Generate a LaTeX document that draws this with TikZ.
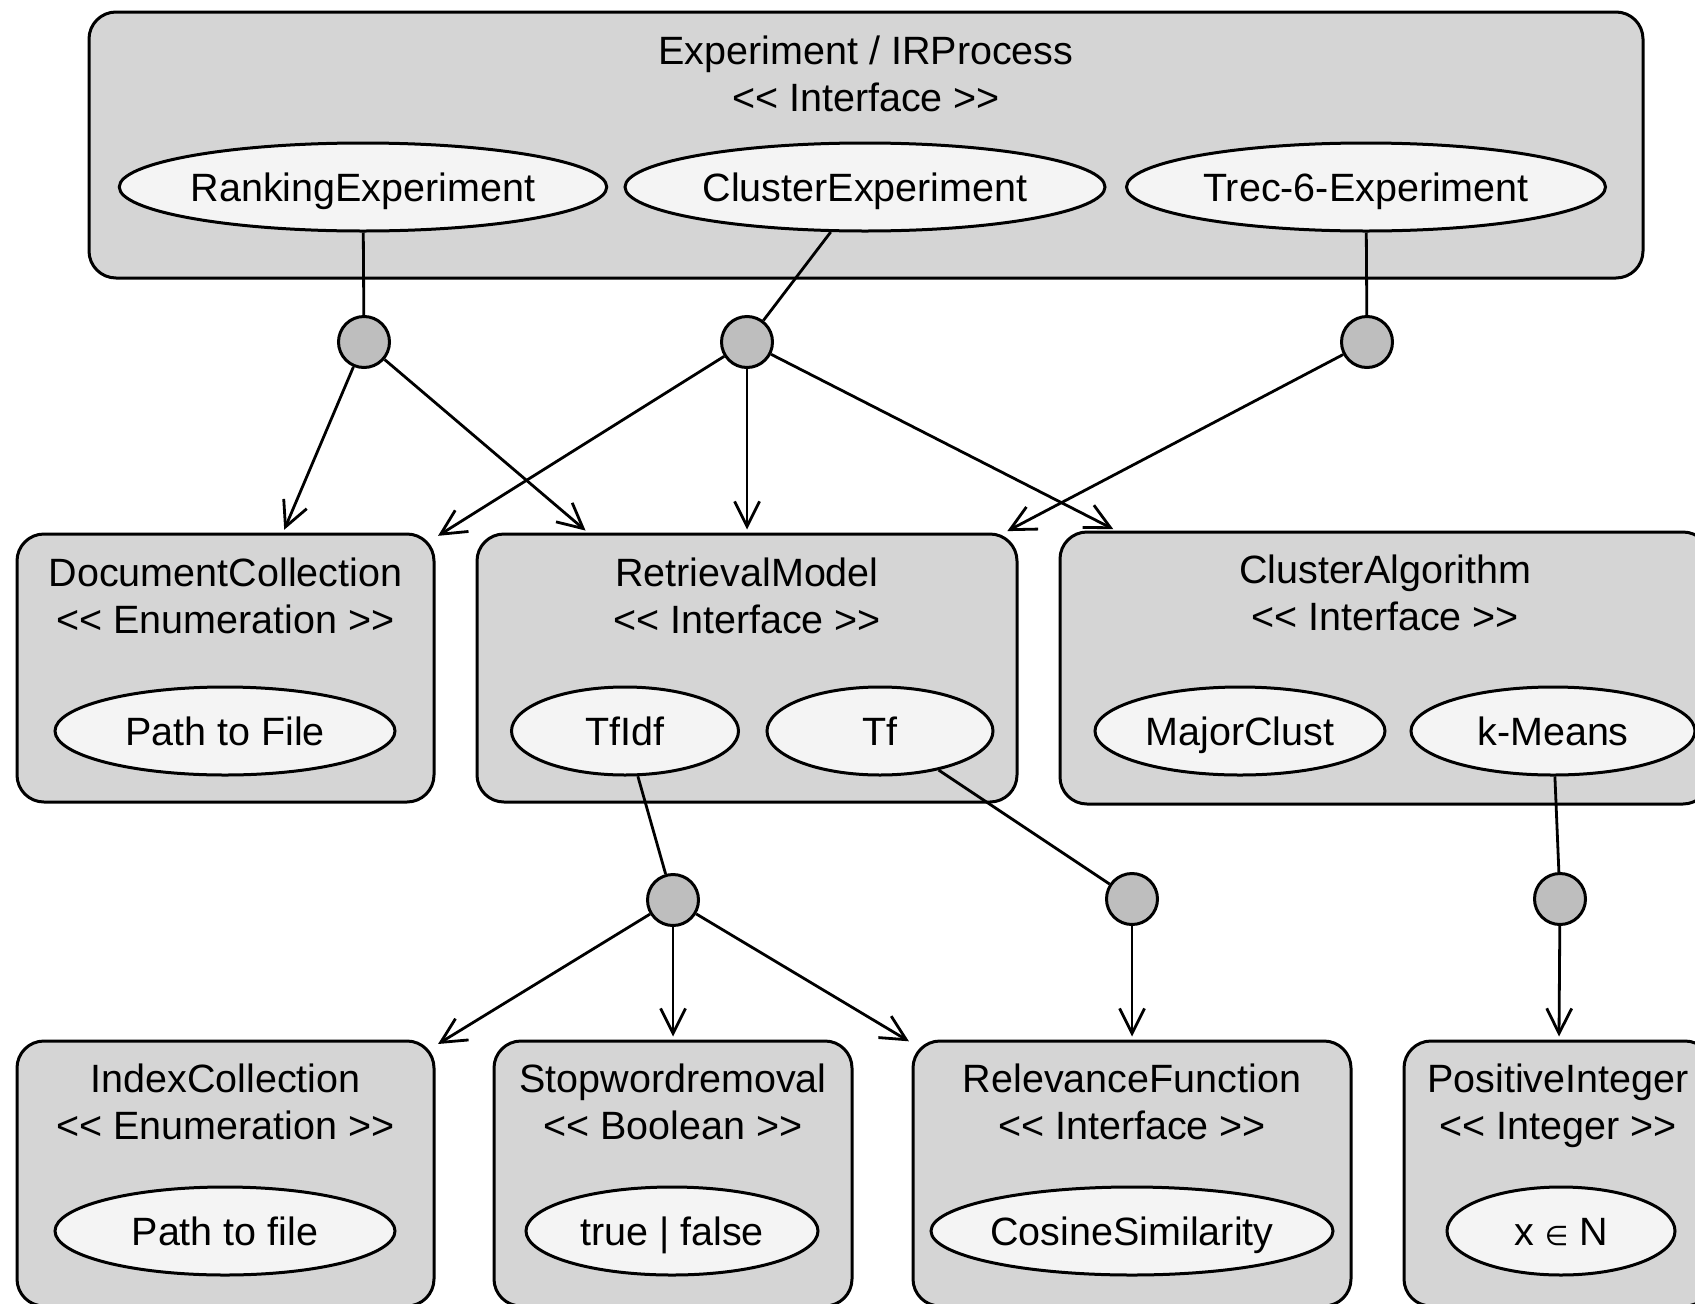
\documentclass[tikz,border=0pt]{standalone}
\usepackage{fontspec}
\setmainfont{Liberation Sans}
\newfontfamily\symfont{DejaVu Sans}
\usetikzlibrary{shapes.geometric,arrows.meta}

\definecolor{boxfill}{HTML}{D5D5D5}
\definecolor{ovalfill}{HTML}{F4F4F4}
\definecolor{dotfill}{HTML}{BEBEBE}

% stereotype brackets, kept apart so no guillemet ligature forms
\newcommand{\stereo}[1]{<{}< #1 >{}>}

\begin{document}
\begin{tikzpicture}[x=1pt,y=-1pt,
  font=\fontsize{39.5}{47}\selectfont,
  classbox/.style={rectangle, draw=black, line width=3pt, fill=boxfill,
    rounded corners=27pt, inner sep=0pt},
  oval/.style={ellipse, draw=black, line width=3pt, fill=ovalfill,
    inner sep=0pt, minimum height=88pt, text height=28pt, text depth=0pt},
  title/.style={anchor=base, inner sep=0pt},
  dot/.style={circle, draw=black, line width=3pt, fill=dotfill,
    minimum size=51pt, inner sep=0pt},
  link/.style={line width=2.8pt},
  arr/.style={line width=2.8pt, shorten >=3pt,
    -{Straight Barb[length=25pt,width=25pt,line width=2.8pt]}}
]
\useasboundingbox (0,0) rectangle (1695,1304);

% ---------- top interface box ----------
\node[classbox, minimum width=1554pt, minimum height=266pt] (exp) at (866,145) {};
\node[title] (expA) at (866,64) {Experiment / IRProcess};
\node[title] (expB) at (866,111) {\stereo{Interface}};
\node[oval, minimum width=478pt] (rank)  at (363,187)  {RankingExperiment};
\node[oval, minimum width=480pt] (clexp) at (865,187)  {ClusterExperiment};
\node[oval, minimum width=479pt] (trec)  at (1366,187) {Trec-6-Experiment};

% ---------- middle row ----------
\node[classbox, minimum width=417pt, minimum height=268pt] (docc) at (225.5,668) {};
\node[title] (doccA) at (225.5,586) {DocumentCollection};
\node[title] (doccB) at (225.5,633) {\stereo{Enumeration}};
\node[oval, minimum width=340pt] (pathF) at (225,731) {Path to File};

\node[classbox, minimum width=540pt, minimum height=268pt] (retr) at (747,668) {};
\node[title] (retrA) at (747,586) {RetrievalModel};
\node[title] (retrB) at (747,633) {\stereo{Interface}};
\node[oval, minimum width=227pt] (tfidf) at (625,731) {TfIdf};
\node[oval, minimum width=226pt] (tf)    at (880,731) {Tf};

\node[classbox, minimum width=650pt, minimum height=272pt] (clus) at (1385,668) {};
\node[title] (clusA) at (1385,583) {ClusterAlgorithm};
\node[title] (clusB) at (1385,630) {\stereo{Interface}};
\node[oval, minimum width=290pt] (major)  at (1240,731) {MajorClust};
\node[oval, minimum width=284pt] (kmeans) at (1553,731) {k-Means};

% ---------- bottom row ----------
\node[classbox, minimum width=417pt, minimum height=265pt] (idx) at (225.5,1173.5) {};
\node[title] (idxA) at (225.5,1092) {IndexCollection};
\node[title] (idxB) at (225.5,1139) {\stereo{Enumeration}};
\node[oval, minimum width=340pt] (pathf) at (225,1231) {Path to file};

\node[classbox, minimum width=358pt, minimum height=265pt] (stop) at (673,1173.5) {};
\node[title] (stopA) at (673,1092) {Stopwordremoval};
\node[title] (stopB) at (673,1139) {\stereo{Boolean}};
\node[oval, minimum width=292pt] (bool) at (672,1231) {true | false};

\node[classbox, minimum width=438pt, minimum height=265pt] (relv) at (1132,1173.5) {};
\node[title] (relvA) at (1132,1092) {RelevanceFunction};
\node[title] (relvB) at (1132,1139) {\stereo{Interface}};
\node[oval, minimum width=402pt] (cosim) at (1132,1231) {CosineSimilarity};

\node[classbox, minimum width=308pt, minimum height=265pt] (posi) at (1558,1173.5) {};
\node[title] (posiA) at (1558,1092) {PositiveInteger};
\node[title] (posiB) at (1558,1139) {\stereo{Integer}};
\node[oval, minimum width=228pt] (xin) at (1561,1231)
  {x {\symfont\fontsize{27}{27}\selectfont ∈} N};

% ---------- junction dots ----------
\node[dot] (c1) at (364,342)  {};
\node[dot] (c2) at (747,342)  {};
\node[dot] (c3) at (1367,342) {};
\node[dot] (c4) at (673,900)  {};
\node[dot] (c5) at (1132,899) {};
\node[dot] (c6) at (1560,899) {};

% ---------- connectors ----------
\draw[link] (rank)  -- (c1);
\draw[link] (clexp) -- (c2);
\draw[link] (trec)  -- (c3);
\draw[arr] (c1) -- (docc);
\draw[arr] (c1) -- (retr);
\draw[arr] (c2) -- (docc);
\draw[arr] (c2) -- (retr);
\draw[arr] (c2) -- (clus);
\draw[arr] (c3) -- (retr);

\draw[link] (tfidf)  -- (c4);
\draw[link] (tf)     -- (c5);
\draw[link] (kmeans) -- (c6);
\draw[arr] (c4) -- (idx);
\draw[arr] (c4) -- (stop);
\draw[arr] (c4) -- (relv);
\draw[arr] (c5) -- (relv);
\draw[arr] (c6) -- (posi);
\end{tikzpicture}
\end{document}
